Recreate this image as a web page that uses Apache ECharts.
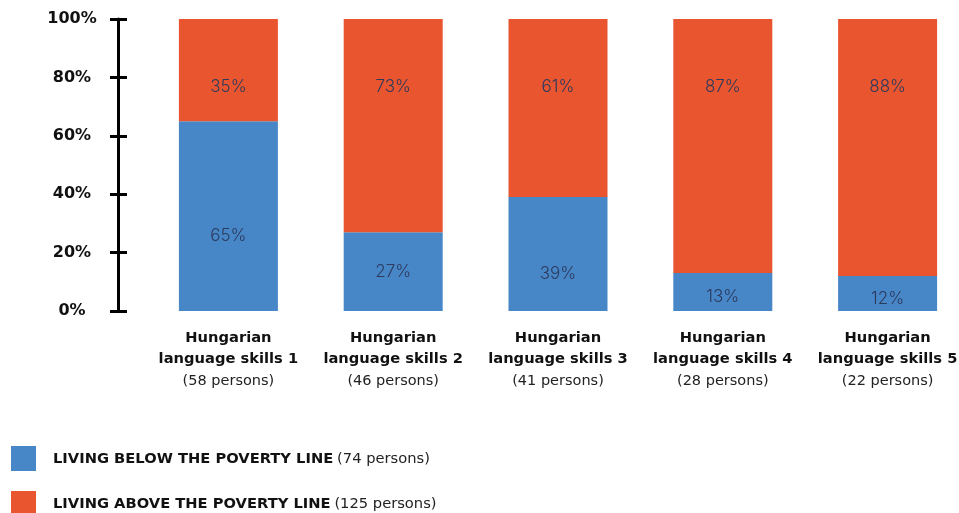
<!DOCTYPE html>
<html>
<head>
<meta charset="utf-8">
<script src="https://cdn.jsdelivr.net/npm/echarts@6/dist/echarts.min.js"></script>
<style>
  html, body { margin: 0; padding: 0; background: #fff; overflow: hidden; }
  /* the plot runs slightly past the right edge of the view */
  #chart { width: 970px; height: 513px; }
</style>
</head>
<body>
<div id="chart"></div>
<script>
// Poverty line by Hungarian language skill level (share of respondents, %)
const skillLevels = ['Hungarian language skills 1', 'Hungarian language skills 2', 'Hungarian language skills 3', 'Hungarian language skills 4', 'Hungarian language skills 5'];
const levelPersons = [58, 46, 41, 28, 22];
const belowPoverty = [65, 27, 39, 13, 12];
const abovePoverty = [35, 73, 61, 87, 88];
const seriesNames = ['LIVING BELOW THE POVERTY LINE', 'LIVING ABOVE THE POVERTY LINE'];
const seriesPersons = [74, 125];
const yTicks = [0, 20, 40, 60, 80, 100];

const BLUE = '#4887c7';
const ORANGE = '#e9552e';
const LABEL_COLOR = '#2c3a5e';
const FONT = '"DejaVu Sans", sans-serif';
const VALUE_FONT = 'Inter, "DejaVu Sans", sans-serif';

const chart = echarts.init(document.getElementById('chart'));

// value labels in the blue segments sit a little below the segment middle when there is room
function blueLabelShift(v) {
  if (v >= 35) return 20;
  if (v < 20) return 5;
  return 0;
}

const yBase = {
  type: 'value',
  min: yTicks[0],
  max: yTicks[yTicks.length - 1],
  interval: 20,
  position: 'left',
  offset: 28,
  splitLine: { show: false }
};

const valueLabel = {
  show: true,
  formatter: '{c}%',
  fontFamily: VALUE_FONT,
  fontWeight: 300,
  fontSize: 17,
  color: LABEL_COLOR
};

chart.setOption({
  animation: false,
  textStyle: { fontFamily: FONT },
  grid: { left: 146, right: 0, top: 19, bottom: 202 },
  legend: {
    orient: 'vertical',
    left: 6,
    top: 441,
    height: 90,
    itemWidth: 25,
    itemHeight: 25,
    itemGap: 20,
    icon: 'rect',
    data: seriesNames,
    formatter: function (name) {
      const i = seriesNames.indexOf(name);
      return '{b|' + name + '} {n|(' + seriesPersons[i] + ' persons)}';
    },
    textStyle: {
      padding: [2, 0, 0, 12],
      rich: {
        b: { fontFamily: FONT, fontWeight: 'bold', fontSize: 14.7, color: '#111' },
        n: { fontFamily: FONT, fontSize: 14.7, color: '#222' }
      }
    }
  },
  xAxis: {
    type: 'category',
    data: skillLevels,
    axisLine: { show: false },
    axisTick: { show: false },
    axisLabel: {
      interval: 0,
      margin: 17,
      formatter: function (value, idx) {
        const cut = value.indexOf(' ');
        return '{b|' + value.slice(0, cut) + '}\n{b|' + value.slice(cut + 1) + '}\n{n|(' + levelPersons[idx] + ' persons)}';
      },
      rich: {
        b: { fontFamily: FONT, fontWeight: 'bold', fontSize: 14.7, color: '#111', lineHeight: 21, align: 'center' },
        n: { fontFamily: FONT, fontSize: 14.5, color: '#222', lineHeight: 22, align: 'center' }
      }
    }
  },
  yAxis: [
    Object.assign({}, yBase, {
      axisLine: { show: true, lineStyle: { color: '#000', width: 3 } },
      axisTick: { show: true, length: 8, lineStyle: { color: '#000', width: 3 } },
      axisLabel: {
        margin: 46,
        align: 'center',
        fontFamily: FONT,
        fontWeight: 'bold',
        fontSize: 16,
        color: '#111',
        formatter: '{value}%'
      }
    }),
    Object.assign({}, yBase, {
      axisLine: { show: false },
      axisTick: { show: true, inside: true, length: 9, lineStyle: { color: '#000', width: 3 } },
      axisLabel: { show: false }
    })
  ],
  series: [
    {
      name: seriesNames[0],
      type: 'bar',
      stack: 'share',
      barWidth: 99,
      itemStyle: { color: BLUE },
      label: Object.assign({ position: 'inside' }, valueLabel),
      data: belowPoverty.map(v => ({ value: v, label: { offset: [0, blueLabelShift(v)] } }))
    },
    {
      name: seriesNames[1],
      type: 'bar',
      stack: 'share',
      barWidth: 99,
      itemStyle: { color: ORANGE },
      label: Object.assign({ position: 'insideTop', distance: 59 }, valueLabel),
      data: abovePoverty
    }
  ]
});
</script>
</body>
</html>
